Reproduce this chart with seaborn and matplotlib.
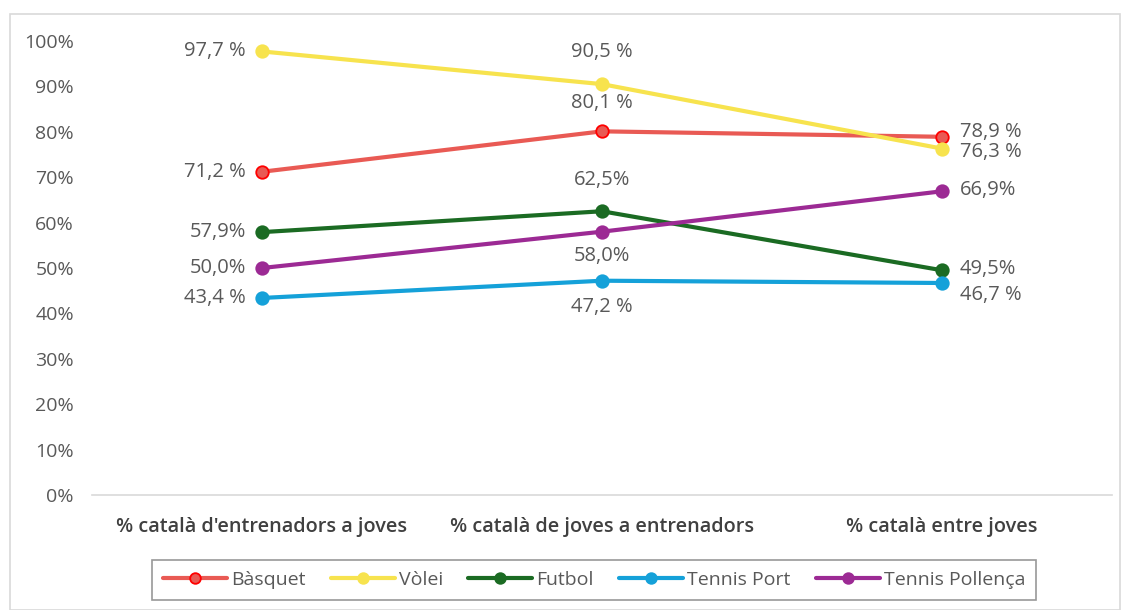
import pandas as pd
import seaborn as sns
import matplotlib.pyplot as plt
from matplotlib.patches import Rectangle
from matplotlib.ticker import PercentFormatter

categories = ["% català d'entrenadors a joves",
              "% català de joves a entrenadors",
              "% català entre joves"]
series_names = ['Bàsquet', 'Vòlei', 'Futbol', 'Tennis Port', 'Tennis Pollença']
basquet = [71.2, 80.1, 78.9]
volei = [97.7, 90.5, 76.3]
futbol = [57.9, 62.5, 49.5]
tennis_port = [43.4, 47.2, 46.7]
tennis_pollenca = [50.0, 58.0, 66.9]
label_texts = {
    'Bàsquet': ['71,2 %', '80,1 %', '78,9 %'],
    'Vòlei': ['97,7 %', '90,5 %', '76,3 %'],
    'Futbol': ['57,9%', '62,5%', '49,5%'],
    'Tennis Port': ['43,4 %', '47,2 %', '46,7 %'],
    'Tennis Pollença': ['50,0%', '58,0%', '66,9%'],
}

colors = {
    'Bàsquet': '#E95A54',
    'Vòlei': '#F7E34E',
    'Futbol': '#1B6B23',
    'Tennis Port': '#15A1D9',
    'Tennis Pollença': '#9C2A94',
}
# label offsets in pixels (dx, dy) per point, plus horizontal alignment
offsets = {
    'Bàsquet': [(-16, 0, 'right'), (0, 28, 'center'), (18, 5, 'left')],
    'Vòlei': [(-16, 0, 'right'), (0, 32, 'center'), (18, -3, 'left')],
    'Futbol': [(-16, 0, 'right'), (0, 31, 'center'), (18, 1, 'left')],
    'Tennis Port': [(-16, 0, 'right'), (0, -26, 'center'), (18, -12, 'left')],
    'Tennis Pollença': [(-16, 0, 'right'), (0, -24, 'center'), (18, 1, 'left')],
}

values = [basquet, volei, futbol, tennis_port, tennis_pollenca]
df = pd.DataFrame([
    {'categoria': c, 'esport': name, 'valor': v / 100}
    for name, vals in zip(series_names, values)
    for c, v in zip(categories, vals)
])

sns.set_style('white')
plt.rcParams['font.family'] = ['Open Sans', 'DejaVu Sans']
text_color = '#595959'

fig = plt.figure(figsize=(11.32, 6.10), dpi=100)
ax = fig.add_axes([92 / 1132, 115 / 610, 1020 / 1132, (495 - 41) / 610])

for name in series_names:
    sub = df[df['esport'] == name]
    edge = 'red' if name == 'Bàsquet' else colors[name]
    sns.lineplot(data=sub, x='categoria', y='valor', ax=ax, color=colors[name],
                 linewidth=3, marker='o', markersize=9, markeredgewidth=1.3,
                 markeredgecolor=edge, label=name, sort=False)
    for i, (c, txt) in enumerate(zip(categories, label_texts[name])):
        dx, dy, ha = offsets[name][i]
        ax.annotate(txt, (i, sub['valor'].iloc[i]), xytext=(dx, dy),
                    textcoords='offset pixels', ha=ha, va='center',
                    fontsize=14.5, color=text_color)

for line in ax.lines:
    line.set_clip_on(False)

ax.set(xlim=(-0.5, 2.5), ylim=(0, 1), xlabel='', ylabel='')
ax.set_yticks([i / 10 for i in range(11)])
ax.yaxis.set_major_formatter(PercentFormatter(1.0, decimals=0))
ax.tick_params(axis='y', labelsize=14, labelcolor=text_color, length=0, pad=13)
ax.tick_params(axis='x', labelsize=14.3, labelcolor='#404040', length=0, pad=16)
for lbl in ax.get_xticklabels():
    lbl.set_fontweight('semibold')
sns.despine(ax=ax, left=True)
ax.spines['bottom'].set_color('#D9D9D9')
ax.spines['bottom'].set_linewidth(1.2)

leg = ax.legend(loc='center', bbox_to_anchor=(594 / 1132, 30 / 610),
                bbox_transform=fig.transFigure, ncol=5, frameon=True,
                fontsize=14, handlelength=3.3, handletextpad=0.2,
                columnspacing=1.3, fancybox=False, borderpad=0.55,
                markerscale=0.85)
leg.get_frame().set_edgecolor('#7F7F7F')
leg.get_frame().set_linewidth(1.2)
for t in leg.get_texts():
    t.set_color(text_color)

fig.patches.append(Rectangle((10 / 1132, 0), 1110 / 1132, 596 / 610,
                             transform=fig.transFigure, fill=False,
                             edgecolor='#D9D9D9', linewidth=1.2))

fig.savefig('out.png', dpi=100)
